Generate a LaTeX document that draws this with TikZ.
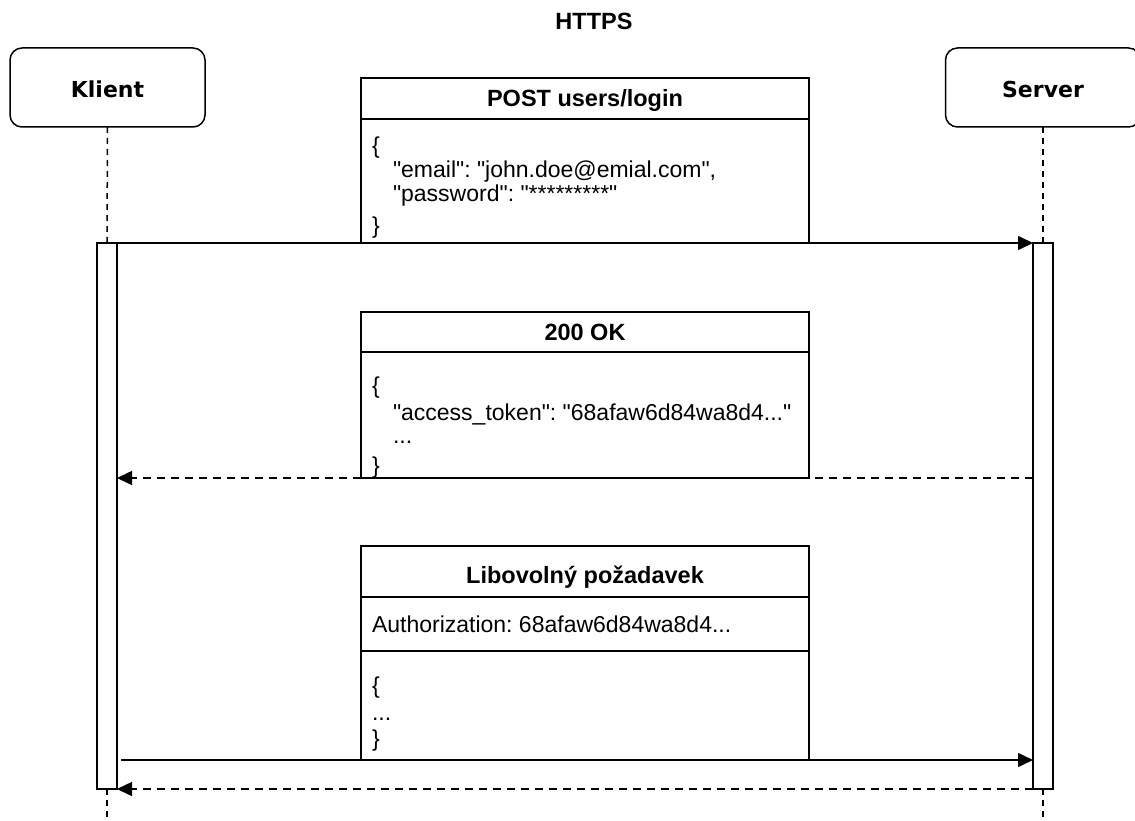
\documentclass[tikz,border=0pt]{standalone}
\usepackage{fontspec}
\setmainfont{Liberation Sans}[Ligatures=TeXOff]
\newfontfamily\dejavu{DejaVu Sans}
\usetikzlibrary{arrows.meta}
\frenchspacing

\tikzset{
  every node/.style={inner sep=0pt, outer sep=0pt},
  lane/.style={draw, line width=1.5pt, rounded corners=12pt,
    minimum width=195pt, minimum height=79pt},
  lanetext/.style={anchor=base, font=\dejavu\bfseries\fontsize{22}{26}\selectfont},
  frame/.style={draw, line width=1.5pt, minimum width=448pt},
  headtext/.style={anchor=base, font=\bfseries\fontsize{23.5}{27}\selectfont},
  txt/.style={anchor=base west, font=\fontsize{23}{27}\selectfont},
  bar/.style={draw, fill=white, line width=1.5pt, minimum width=20pt, minimum height=546pt},
  life/.style={line width=1.5pt, dash pattern=on 6pt off 5pt},
  call/.style={line width=1.5pt, -{Triangle[length=15pt,width=14pt]}},
  reply/.style={call, dash pattern=on 8pt off 6pt}
}

\begin{document}
\begin{tikzpicture}[x=1pt, y=-1pt]
\useasboundingbox (0,0) rectangle (1135,821);

% title
\node[headtext] (title) at (594,30) {HTTPS};

% participants
\node[lane] (klient) at (107.5,87.5) {};
\node[lanetext] (klientlbl) at (107.5,98) {Klient};
\node[lane] (server) at (1043,87.5) {};
\node[lanetext] (serverlbl) at (1043,98) {Server};

% activation bars
\node[bar] (kbar) at (107,516) {};
\node[bar] (sbar) at (1043,516) {};

% lifelines
\coordinate (kend) at (107,821);
\coordinate (send) at (1043,821);
\draw[life] (klient.south) -- (kbar.north);
\draw[life] (server.south) -- (sbar.north);
\draw[life] (kbar.south) -- (kend);
\draw[life] (sbar.south) -- (send);

% login request
\node[frame, minimum height=41pt] (posth) at (585,98.5) {};
\node[frame, minimum height=124pt] (postb) at (585,181) {};
\node[headtext] (postt) at (585,107) {POST users/login};
\node[txt] (p1) at (372,153.5) {\{};
\node[txt] (p2) at (393,178) {"email": "john.doe@emial.com",};
\node[txt] (p3) at (393,201.5) {"password": "*********"};
\node[txt] (p4) at (372,233.5) {\}};

% login response
\node[frame, minimum height=40pt] (okh) at (585,332) {};
\node[frame, minimum height=126pt] (okb) at (585,415) {};
\node[headtext] (okt) at (585,340) {200 OK};
\node[txt] (o1) at (372,393) {\{};
\node[txt] (o2) at (393,420) {"access\_token": "68afaw6d84wa8d4..."};
\node[txt] (o3) at (393,443) {...};
\node[txt] (o4) at (372,473) {\}};

% authorised request
\node[frame, minimum height=51pt] (reqh) at (585,571.5) {};
\node[frame, minimum height=54pt] (reqa) at (585,624) {};
\node[frame, minimum height=109pt] (reqb) at (585,705.5) {};
\node[headtext] (reqt) at (585,583) {Libovolný požadavek};
\node[txt] (r0) at (372,632) {Authorization: 68afaw6d84wa8d4...};
\node[txt] (r1) at (372,693) {\{};
\node[txt] (r2) at (372,720) {...};
\node[txt] (r3) at (372,746.5) {\}};

% messages
\draw[call] (kbar.north east) -- (sbar.north west);
\draw[reply] (sbar.west |- okb.south) -- (kbar.east |- okb.south);
\draw[call, shorten <=4pt] (kbar.east |- reqb.south) -- (sbar.west |- reqb.south);
\draw[reply] (sbar.south west) -- (kbar.south east);
\end{tikzpicture}
\end{document}
